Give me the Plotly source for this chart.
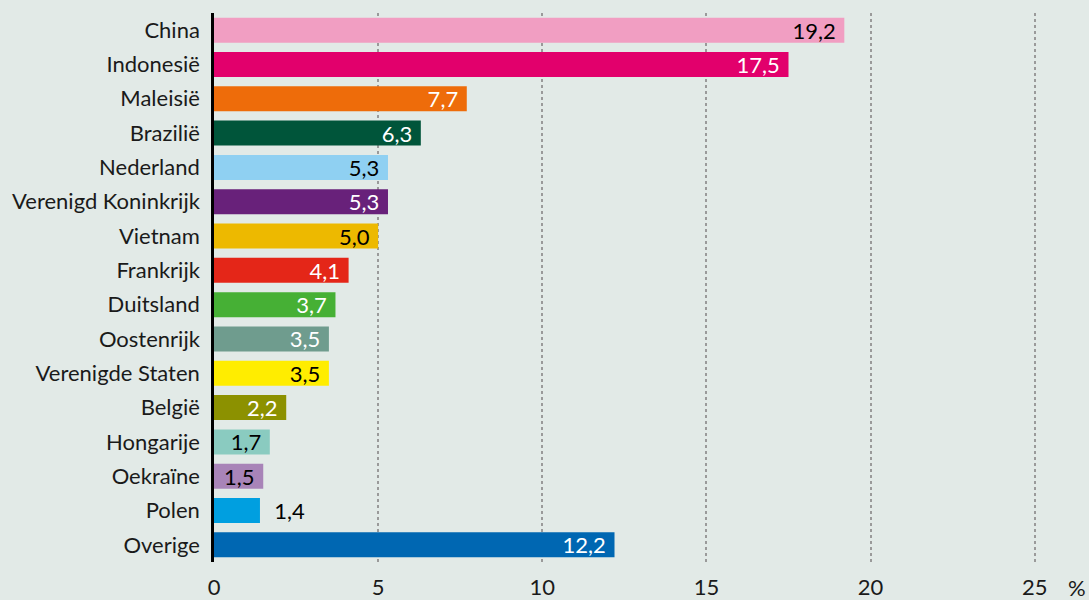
import plotly.graph_objects as go

countries = ["China", "Indonesië", "Maleisië", "Brazilië", "Nederland", "Verenigd Koninkrijk",
             "Vietnam", "Frankrijk", "Duitsland", "Oostenrijk", "Verenigde Staten", "België",
             "Hongarije", "Oekraïne", "Polen", "Overige"]
values = [19.2, 17.5, 7.7, 6.3, 5.3, 5.3, 5.0, 4.1, 3.7, 3.5, 3.5, 2.2, 1.7, 1.5, 1.4, 12.2]
colors = ["#F19EC2", "#E2006C", "#EE6C0A", "#00553A", "#8FD0F2", "#68217A", "#EDB900", "#E42618",
          "#46B035", "#6F9C8E", "#FFED00", "#8C9100", "#8ACBC0", "#A884B8", "#009FE0", "#0067B2"]
label_colors = ["black", "white", "white", "white", "black", "white", "black", "white",
                "white", "white", "black", "white", "black", "black", "black", "white"]
positions = ["inside"] * 14 + ["outside", "inside"]
xticks = [0, 5, 10, 15, 20, 25]

FONT = "Lato"
SIZE = 22
texts = []
for v, p in zip(values, positions):
    s = f"{v:.1f}".replace(".", ",")
    texts.append("\u00a0\u00a0" + s if p == "outside" else s + "\u00a0")

fig = go.Figure(go.Bar(
    x=values, y=countries, orientation="h",
    marker=dict(color=colors, line=dict(width=0)),
    text=texts, textposition=positions, insidetextanchor="end",
    textfont=dict(family=FONT, size=SIZE, color=label_colors),
    outsidetextfont=dict(family=FONT, size=SIZE, color=label_colors),
    insidetextfont=dict(family=FONT, size=SIZE, color=label_colors),
    constraintext="none", cliponaxis=False, hoverinfo="skip",
))

bg = "#E2EAE7"
L, R, T, B = 214, 51, 13, 38
fig.update_layout(
    width=1089, height=600,
    margin=dict(l=L, r=R, t=T, b=B, autoexpand=False),
    paper_bgcolor=bg, plot_bgcolor=bg,
    bargap=0.27, showlegend=False,
    font=dict(family=FONT, size=SIZE, color="#1a1a1a"),
)
fig.update_xaxes(
    range=[0, 25.1], tickvals=xticks, ticktext=[str(t) for t in xticks],
    showgrid=True, gridcolor="#9a9a9a", griddash="dot", gridwidth=2,
    zeroline=False, showline=False, ticks="", ticklabelstandoff=10, automargin=False,
    tickfont=dict(family=FONT, size=SIZE, color="#1a1a1a"),
)
fig.update_yaxes(
    autorange="reversed", showgrid=False, showline=True, linecolor="black", linewidth=2.5,
    ticks="", ticklabelstandoff=7, automargin=False,
    tickfont=dict(family=FONT, size=SIZE, color="#1a1a1a"),
)
plot_w = 1089 - L - R
plot_h = 600 - T - B
fig.add_annotation(x=(1077 - L) / plot_w, y=-(587 - (600 - B)) / plot_h, xref="paper", yref="paper",
                   text="%", showarrow=False, xanchor="center", yanchor="middle",
                   font=dict(family=FONT, size=SIZE, color="#1a1a1a"))
fig.write_html("out.html", config={"displayModeBar": False},
               post_script="document.body.style.margin='0px';")
